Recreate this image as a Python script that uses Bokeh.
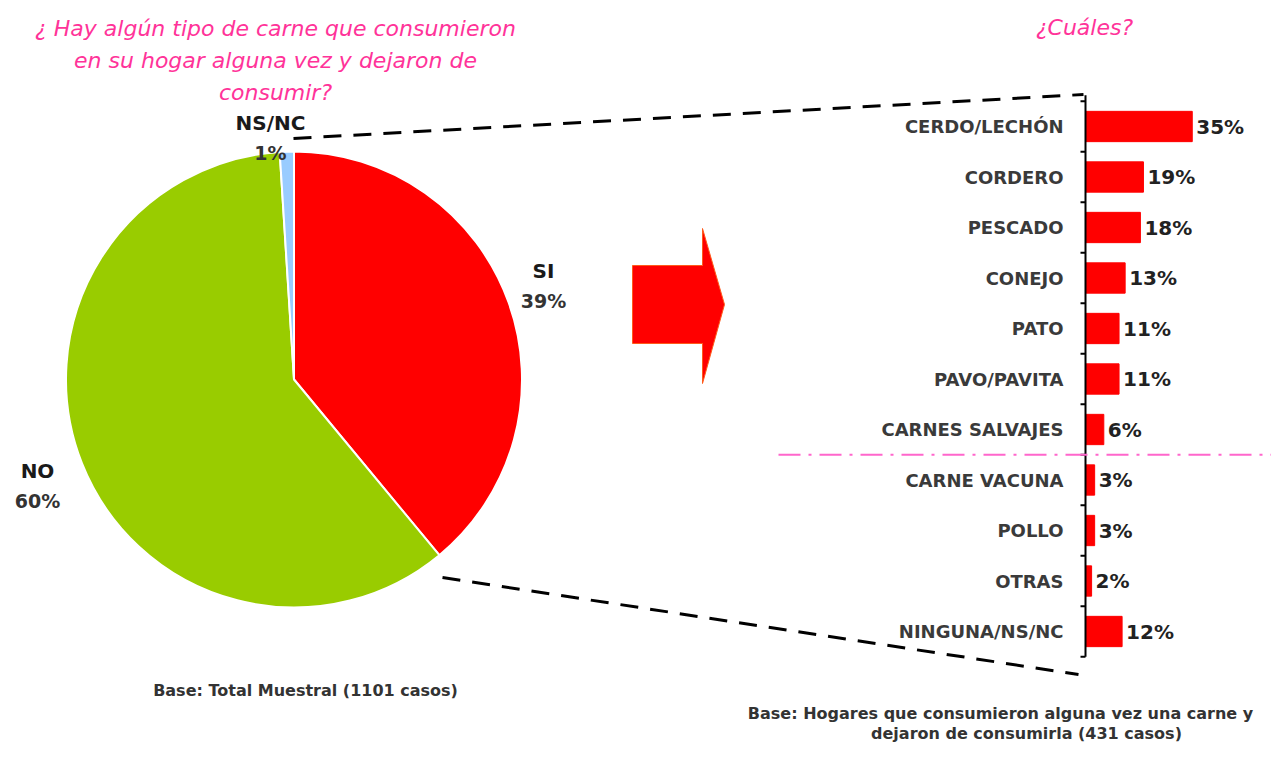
import math
from bokeh.plotting import figure
from bokeh.models import Range1d
from bokeh.embed import file_html
from bokeh.resources import INLINE
from bokeh.core.properties import value

# ---------------- data ----------------
pie_labels = ["SI", "NO", "NS/NC"]
pie_values = [39, 60, 1]
pie_colors = ["#FF0000", "#99CC00", "#99CCFF"]

categories = ["CERDO/LECHÓN", "CORDERO", "PESCADO", "CONEJO", "PATO",
              "PAVO/PAVITA", "CARNES SALVAJES", "CARNE VACUNA", "POLLO",
              "OTRAS", "NINGUNA/NS/NC"]
percent = [35, 19, 18, 13, 11, 11, 6, 3, 3, 2, 12]

title_left = ["¿ Hay algún tipo de carne que consumieron",
              "en su hogar alguna vez y dejaron de",
              "consumir?"]
title_right = "¿Cuáles?"
base_left = "Base: Total Muestral (1101 casos)"
base_right = ["Base: Hogares que consumieron alguna vez una carne y",
              "dejaron de consumirla (431 casos)"]

# ---------------- layout constants ----------------
W, H = 1271, 744
X0, X1, Y0P, Y1P = 0, W, 0, H               # frame in reference pixels
PIE_CX, PIE_CY, PIE_R = 293.5, 379, 228
AX_X, K = 1085, 3.05                        # bar axis x, px per percent
CAT_Y0, CAT_D = 126, 50.5                   # first category centre, spacing
PINK = "#FF3399"
FONT = value("DejaVu Sans")

p = figure(width=W, height=H, x_range=Range1d(X0, X1), y_range=Range1d(-Y1P, -Y0P),
           output_backend="svg", toolbar_location=None,
           x_axis_location=None, y_axis_location=None,
           min_border=0, outline_line_color=None)
p.grid.grid_line_color = None
p.background_fill_color = "white"

p.extra_x_ranges = {"pct": Range1d((X0 - AX_X) / K, (X1 - AX_X) / K)}
p.extra_y_ranges = {"cat": Range1d((Y1P - CAT_Y0) / CAT_D, (Y0P - CAT_Y0) / CAT_D)}

# ---------------- titles ----------------
for i, t in enumerate(title_left):
    p.text(x=[275], y=[-(28 + 32 * i)], text=[t], text_align="center",
           text_baseline="middle", text_font=FONT, text_font_style="italic",
           text_font_size="22px", text_color=PINK)
p.text(x=[1084], y=[-27], text=[title_right], text_align="center",
       text_baseline="middle", text_font=FONT, text_font_style="italic",
       text_font_size="22px", text_color=PINK)

# ---------------- connectors ----------------
p.line([293, 1083], [-138, -94], line_color="black", line_width=3, line_dash="18 12")
p.line([442, 1078], [-577, -674], line_color="black", line_width=3, line_dash="18 12")

# ---------------- pie ----------------
total = float(sum(pie_values))
cum = 0.0
starts, ends = [], []
for v in pie_values:
    a_end = math.pi / 2 - 2 * math.pi * cum / total
    cum += v
    a_start = math.pi / 2 - 2 * math.pi * cum / total
    starts.append(a_start)
    ends.append(a_end)
p.wedge(x=[PIE_CX] * 3, y=[-PIE_CY] * 3, radius=PIE_R, start_angle=starts,
        end_angle=ends, fill_color=pie_colors, line_color="white", line_width=2)

label_pos = [(543, 285), (37, 485), (270, 137)]
for (lx, ly), name, v in zip(label_pos, pie_labels, pie_values):
    p.text(x=[lx], y=[-ly], text=[name], y_offset=-15, text_align="center",
           text_baseline="middle", text_font=FONT, text_font_style="bold",
           text_font_size="20px", text_color="#1a1a1a")
    p.text(x=[lx], y=[-ly], text=[f"{v}%"], y_offset=15, text_align="center",
           text_baseline="middle", text_font=FONT, text_font_style="bold",
           text_font_size="19px", text_color="#333333")

# ---------------- arrow ----------------
p.patch([632, 702, 702, 724, 702, 702, 632],
        [-265, -265, -228, -304, -383, -343, -343],
        fill_color="#FF0000", line_color="#FF5a1a", line_width=1)

# ---------------- bars ----------------
idx = list(range(len(categories)))
p.hbar(y=idx, left=0, right=percent, height=0.6, fill_color="#FF0000",
       line_color="#FF0000", x_range_name="pct", y_range_name="cat")
p.text(x=percent, y=idx, text=[f"{v}%" for v in percent], x_offset=4,
       text_align="left", text_baseline="middle", text_font=FONT,
       text_font_style="bold", text_font_size="20px", text_color="#222222",
       x_range_name="pct", y_range_name="cat")
p.text(x=[0] * len(idx), y=idx, text=categories, x_offset=-22,
       text_align="right", text_baseline="middle", text_font=FONT,
       text_font_style="bold", text_font_size="18px", text_color="#3a3a3a",
       x_range_name="pct", y_range_name="cat")

# axis line and boundary ticks
n = len(categories)
p.segment(x0=[0], x1=[0], y0=[-0.62], y1=[n - 0.5], line_color="black",
          line_width=2, x_range_name="pct", y_range_name="cat")
ticks = [i - 0.5 for i in range(n + 1)]
p.segment(x0=[-5 / K] * len(ticks), x1=[0] * len(ticks), y0=ticks, y1=ticks,
          line_color="black", line_width=2, x_range_name="pct", y_range_name="cat")

# pink separator
p.segment(x0=[778], x1=[X1], y0=[6.5], y1=[6.5], line_color="#FF66CC",
          line_width=2, line_dash="22 8 3 8", y_range_name="cat")

# ---------------- footers ----------------
p.text(x=[305], y=[-690], text=[base_left], text_align="center",
       text_baseline="middle", text_font=FONT, text_font_style="bold",
       text_font_size="16px", text_color="#333333")
p.text(x=[1000], y=[-713], text=[base_right[0]], text_align="center",
       text_baseline="middle", text_font=FONT, text_font_style="bold",
       text_font_size="16px", text_color="#333333")
p.text(x=[1026], y=[-733], text=[base_right[1]], text_align="center",
       text_baseline="middle", text_font=FONT, text_font_style="bold",
       text_font_size="16px", text_color="#333333")

open("out.html", "w").write(file_html(p, INLINE))
